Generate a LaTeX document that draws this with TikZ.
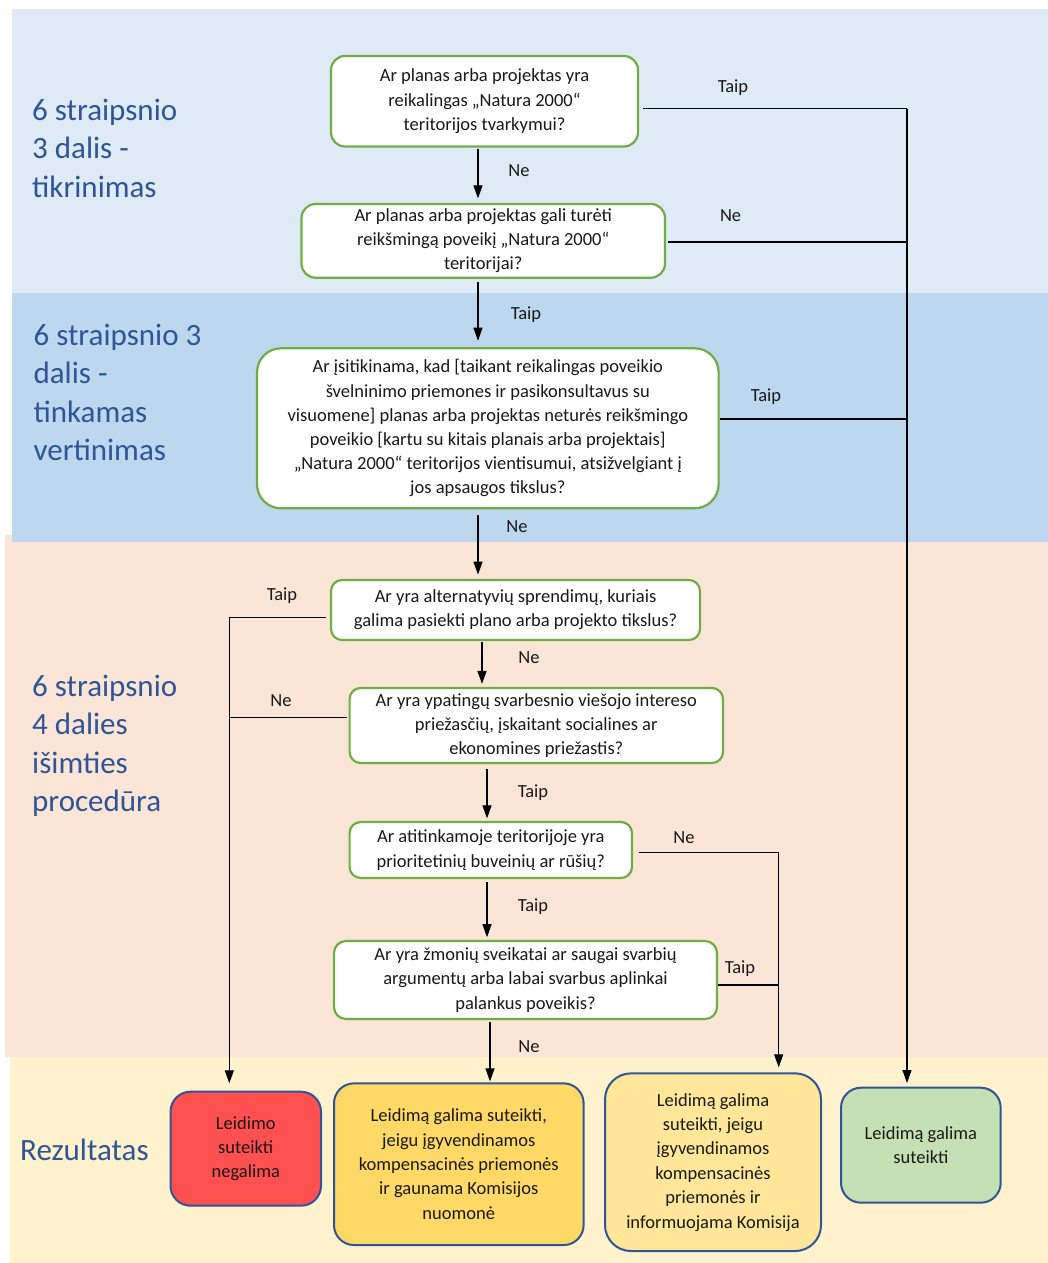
\documentclass[tikz,border=0pt]{standalone}
\usepackage{fontspec}
\setmainfont{Carlito}
\usetikzlibrary{arrows.meta}
\definecolor{bandA}{HTML}{DEEBF7}
\definecolor{bandB}{HTML}{BDD7EE}
\definecolor{bandC}{HTML}{FBE5D6}
\definecolor{bandD}{HTML}{FFF2CC}
\definecolor{qgreen}{HTML}{70AD47}
\definecolor{rblue}{HTML}{2F5597}
\definecolor{lbl}{HTML}{2F5597}
\definecolor{fred}{HTML}{FF5050}
\definecolor{forange}{HTML}{FFD966}
\definecolor{fyellow}{HTML}{FFE699}
\definecolor{fgreen}{HTML}{C5E0B4}
\tikzset{
 qbox/.style={draw=qgreen, line width=2.2pt, fill=white, rounded corners=14pt, align=center, inner sep=0pt, text=black!90, font=\fontsize{18.5}{24.2}\selectfont},
 resbox/.style={draw=rblue, line width=2pt, rounded corners=20pt, align=center, inner sep=0pt, text=black!90, font=\fontsize{18.5}{24.4}\selectfont},
 conn/.style={line width=1.1pt, black},
 arr/.style={conn, -{Triangle[length=13pt,width=9pt]}},
 yn/.style={font=\fontsize{18.5}{22}\selectfont, inner sep=0pt, text=black!90},
 side/.style={text=lbl, align=left, anchor=west, inner sep=0pt, font=\fontsize{31}{38.5}\selectfont},
}
\begin{document}
\begin{tikzpicture}[x=1pt,y=-1pt]
\useasboundingbox (0,0) rectangle (1048,1263);
\fill[white] (0,0) rectangle (1048,1263);
\fill[bandC] (5,535) rectangle (1048,1057);
\fill[bandA] (12,9) rectangle (1048,293);
\fill[bandB] (12,293) rectangle (1048,542);
\fill[bandD] (10,1057) rectangle (1048,1263);

% side labels
\node[side] (s1) at (32,148) {6 straipsnio\\3 dalis -\\tikrinimas};
\node[side] (s2) at (33.4,392.5) {6 straipsnio 3\\dalis -\\tinkamas\\vertinimas};
\node[side] (s3) at (32,745.6) {6 straipsnio\\4 dalies\\išimties\\procedūra};
\node[side] (s4) at (20,1150) {Rezultatas};

% questions
\node[qbox, minimum width=307pt, minimum height=90.5pt] (Q1) at (484.5,101.25)
  {Ar planas arba projektas yra\\reikalingas „Natura 2000“\\teritorijos tvarkymui?};
\node[qbox, minimum width=363.5pt, minimum height=73.7pt] (Q2) at (483.25,240.85)
  {Ar planas arba projektas gali turėti\\reikšmingą poveikį „Natura 2000“\\teritorijai?};
\node[qbox, rounded corners=24pt, minimum width=461.6pt, minimum height=160pt] (Q3) at (487.8,428.3)
  {Ar įsitikinama, kad [taikant reikalingas poveikio\\švelninimo priemones ir pasikonsultavus su\\visuomene] planas arba projektas neturės reikšmingo\\poveikio [kartu su kitais planais arba projektais]\\„Natura 2000“ teritorijos vientisumui, atsižvelgiant į\\jos apsaugos tikslus?};
\node[qbox, rounded corners=11pt, minimum width=369pt, minimum height=60pt] (Q4) at (515.5,610)
  {Ar yra alternatyvių sprendimų, kuriais\\galima pasiekti plano arba projekto tikslus?};
\node[qbox, rounded corners=11pt, minimum width=373.4pt, minimum height=75pt] (Q5) at (536.3,725.5)
  {Ar yra ypatingų svarbesnio viešojo intereso\\priežasčių, įskaitant socialines ar\\ekonomines priežastis?};
\node[qbox, rounded corners=11pt, minimum width=282.4pt, minimum height=56pt] (Q6) at (490.8,850)
  {Ar atitinkamoje teritorijoje yra\\prioritetinių buveinių ar rūšių?};
\node[qbox, rounded corners=12pt, minimum width=383pt, minimum height=78pt] (Q7) at (525.5,980)
  {Ar yra žmonių sveikatai ar saugai svarbių\\argumentų arba labai svarbus aplinkai\\palankus poveikis?};

% results
\node[resbox, fill=fred, minimum width=150.5pt, minimum height=114pt] (R1) at (245.75,1148.7)
  {Leidimo\\suteikti\\negalima};
\node[resbox, fill=forange, minimum width=249.6pt, minimum height=161.7pt] (R2) at (458.8,1164.2)
  {Leidimą galima suteikti,\\jeigu įgyvendinamos\\kompensacinės priemonės\\ir gaunama Komisijos\\nuomonė};
\node[resbox, fill=fyellow, rounded corners=26pt, minimum width=216pt, minimum height=177.7pt] (R3) at (713,1162.2)
  {Leidimą galima\\suteikti, jeigu\\įgyvendinamos\\kompensacinės\\priemonės ir\\informuojama Komisija};
\node[resbox, fill=fgreen, minimum width=159.7pt, minimum height=115pt] (R4) at (920.85,1145.2)
  {Leidimą galima\\suteikti};

% rails
\coordinate (cA) at (478,0);
\coordinate (cB) at (482,0);
\coordinate (cC) at (487,0);
\coordinate (cD) at (490,0);
\coordinate (t1) at (907,108.7);
\coordinate (t2) at (907,242);
\coordinate (t3) at (907,419);
\coordinate (l1) at (229.3,617.7);
\coordinate (l2) at (229.3,717.3);
\coordinate (m1) at (778.7,852.7);
\coordinate (m2) at (778.7,985);

% vertical connectors
\draw[arr, shorten <=1pt, shorten >=4.5pt] (Q1.south -| cA) -- (Q2.north -| cA);
\draw[arr, shorten <=3pt, shorten >=6.5pt] (Q2.south -| cA) -- (Q3.north -| cA);
\draw[arr, shorten <=6pt, shorten >=4.3pt] (Q3.south -| cA) -- (Q4.north -| cA);
\draw[arr, shorten <=1pt, shorten >=3pt] (Q4.south -| cB) -- (Q5.north -| cB);
\draw[arr, shorten <=5pt, shorten >=2.5pt] (Q5.south -| cC) -- (Q6.north -| cC);
\draw[arr, shorten <=3pt, shorten >=2.7pt] (Q6.south -| cC) -- (Q7.north -| cC);
\draw[arr, shorten <=2pt, shorten >=1pt] (Q7.south -| cD) -- (R2.north -| cD);

% right rail
\draw[conn, shorten <=4pt] (Q1.east |- t1) -- (t1);
\draw[conn, shorten <=2pt] (Q2.east |- t2) -- (t2);
\draw[conn] (Q3.east |- t3) -- (t3);
\draw[arr, shorten >=3.7pt] (t1) -- (t1 |- R4.north);

% left rail
\draw[arr, shorten <=3.5pt, shorten >=7.4pt] (Q4.west |- l1) -- (l1) -- (l1 |- R1.north);
\draw[conn, shorten <=2pt] (Q5.west |- l2) -- (l2);

% middle rail
\draw[arr, shorten <=6pt, shorten >=5pt] (Q6.east |- m1) -- (m1) -- (m1 |- R3.north);
\draw[conn] (Q7.east |- m2) -- (m2);

% yes / no labels
\node[yn] (y1) at (733,88) {Taip};
\node[yn] (y2) at (519,170.7) {Ne};
\node[yn] (y3) at (730.6,215.7) {Ne};
\node[yn] (y4) at (526,315) {Taip};
\node[yn] (y5) at (766,397) {Taip};
\node[yn] (y6) at (517,527) {Ne};
\node[yn] (y7) at (282,596) {Taip};
\node[yn] (y8) at (529,658) {Ne};
\node[yn] (y9) at (281,701) {Ne};
\node[yn] (y10) at (533,793) {Taip};
\node[yn] (y11) at (684,838) {Ne};
\node[yn] (y12) at (533,907) {Taip};
\node[yn] (y13) at (740,969) {Taip};
\node[yn] (y14) at (529,1047) {Ne};
\end{tikzpicture}
\end{document}
